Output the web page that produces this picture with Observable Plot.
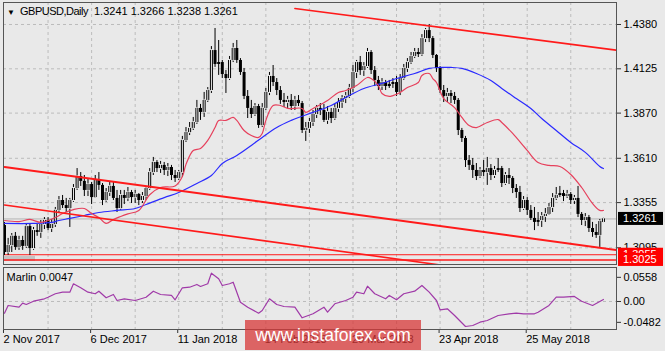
<!DOCTYPE html>
<html><head><meta charset="utf-8">
<script src="https://cdn.jsdelivr.net/npm/d3@7"></script>
<script src="https://cdn.jsdelivr.net/npm/@observablehq/plot@0.6"></script>
<style>
html,body{margin:0;padding:0;background:#e9e9e9;}
#chart{position:relative;width:665px;height:351px;overflow:hidden;background:#e9e9e9;font-family:"Liberation Sans",Arial,sans-serif;}
#chart svg{position:absolute;left:0;overflow:visible;}
.t{position:absolute;top:5px;font-size:11px;line-height:13px;color:#000;white-space:pre;}
.scroll{position:absolute;left:3px;top:256px;width:32px;height:5px;background:#c4c4c4;}
.wm{position:absolute;left:245px;top:320px;width:176px;height:30px;background:rgba(215,55,55,0.75);color:#fff;font-size:17.5px;line-height:30px;text-align:center;}
</style></head><body>
<div id="chart"><div class="scroll"></div></div>
<script>
// ---- data ----
const symbol = "GBPUSD,Daily";
const open = [
1.3223,1.3068,1.3108,1.3161,1.3097,1.3137,1.3103,1.3217,1.3091,1.3194,
1.3183,1.3229,1.3252,1.3206,1.3229,1.3310,1.3367,1.3338,1.3321,1.3367,
1.3436,1.3505,1.3477,1.3425,1.3459,1.3384,1.3482,1.3454,1.3367,1.3413,
1.3448,1.3379,1.3321,1.3396,1.3379,1.3413,1.3384,1.3402,1.3367,1.3390,
1.3436,1.3528,1.3586,1.3551,1.3569,1.3540,1.3557,1.3511,1.3494,1.3528,
1.3712,1.3758,1.3782,1.3816,1.3897,1.3874,1.3943,1.4000,1.4230,1.4150,
1.4161,1.4092,1.4069,1.4173,1.4242,1.4173,1.4104,1.3966,1.3897,1.3862,
1.3908,1.3799,1.3897,1.3989,1.4081,1.4046,1.4000,1.3943,1.3931,1.3943,
1.3908,1.3943,1.3925,1.3770,1.3782,1.3816,1.3862,1.3897,1.3885,1.3828,
1.3874,1.3839,1.3897,1.3931,1.3954,1.3966,1.4012,1.4104,1.4161,1.4115,
1.4138,1.4219,1.4115,1.4058,1.4023,1.4046,1.4023,1.4035,1.4046,1.3989,
1.4069,1.4127,1.4161,1.4196,1.4219,1.4207,1.4299,1.4345,1.4299,1.4202,
1.4127,1.4000,1.3966,1.3983,1.3966,1.3943,1.3770,1.3724,1.3597,1.3569,
1.3540,1.3505,1.3540,1.3528,1.3551,1.3511,1.3540,1.3551,1.3465,1.3511,
1.3494,1.3436,1.3413,1.3321,1.3367,1.3310,1.3264,1.3241,1.3252,1.3275,
1.3287,1.3327,1.3379,1.3396,1.3407,1.3390,1.3402,1.3367,1.3379,1.3287,
1.3252,1.3269,1.3206,1.3183,1.3166,1.3241];
const high = [
1.3241,1.3149,1.3177,1.3183,1.3161,1.3161,1.3229,1.3229,1.3212,1.3229,
1.3252,1.3269,1.3269,1.3258,1.3327,1.3390,1.3396,1.3379,1.3379,1.3459,
1.3551,1.3528,1.3511,1.3488,1.3471,1.3511,1.3528,1.3465,1.3436,1.3471,
1.3471,1.3425,1.3425,1.3425,1.3442,1.3425,1.3425,1.3407,1.3413,1.3448,
1.3551,1.3615,1.3597,1.3592,1.3586,1.3580,1.3569,1.3540,1.3540,1.3736,
1.3787,1.3816,1.3845,1.3943,1.3920,1.3989,1.4017,1.4253,1.4357,1.4288,
1.4173,1.4115,1.4196,1.4271,1.4288,1.4184,1.4127,1.4000,1.3943,1.3925,
1.3920,1.3925,1.4012,1.4104,1.4144,1.4069,1.4023,1.3983,1.3966,1.3977,
1.3966,1.3971,1.3937,1.3816,1.3839,1.3885,1.3914,1.3925,1.3920,1.3908,
1.3897,1.3920,1.3954,1.3971,1.3989,1.4035,1.4144,1.4173,1.4196,1.4161,
1.4242,1.4230,1.4138,1.4081,1.4069,1.4058,1.4058,1.4069,1.4081,1.4092,
1.4150,1.4184,1.4219,1.4242,1.4242,1.4322,1.4357,1.4380,1.4311,1.4207,
1.4138,1.4029,1.4012,1.4000,1.3989,1.3954,1.3782,1.3736,1.3626,1.3609,
1.3580,1.3557,1.3597,1.3615,1.3574,1.3563,1.3609,1.3563,1.3528,1.3551,
1.3505,1.3459,1.3448,1.3390,1.3384,1.3338,1.3327,1.3298,1.3298,1.3321,
1.3350,1.3407,1.3442,1.3448,1.3425,1.3425,1.3413,1.3396,1.3448,1.3298,
1.3292,1.3281,1.3241,1.3229,1.3258,1.3266];
const low = [
1.3051,1.3051,1.3068,1.3080,1.3080,1.3080,1.3091,1.3051,1.3080,1.3161,
1.3149,1.3200,1.3194,1.3183,1.3212,1.3298,1.3321,1.3298,1.3212,1.3356,
1.3425,1.3448,1.3390,1.3390,1.3344,1.3379,1.3425,1.3338,1.3356,1.3390,
1.3367,1.3298,1.3310,1.3344,1.3361,1.3350,1.3350,1.3338,1.3350,1.3367,
1.3425,1.3511,1.3528,1.3523,1.3511,1.3505,1.3482,1.3471,1.3482,1.3500,
1.3701,1.3741,1.3770,1.3805,1.3828,1.3845,1.3931,1.3983,1.4133,1.4087,
1.4069,1.3983,1.4058,1.4161,1.4156,1.4087,1.3948,1.3839,1.3839,1.3851,
1.3782,1.3787,1.3885,1.3971,1.4023,1.3971,1.3920,1.3902,1.3897,1.3885,
1.3885,1.3908,1.3753,1.3707,1.3753,1.3793,1.3839,1.3856,1.3816,1.3805,
1.3810,1.3828,1.3874,1.3897,1.3925,1.3954,1.3989,1.4069,1.4087,1.4081,
1.4127,1.4092,1.4023,1.4000,1.4000,1.4000,1.4012,1.4012,1.3966,1.3971,
1.4058,1.4104,1.4150,1.4184,1.4190,1.4196,1.4276,1.4276,1.4184,1.4104,
1.3983,1.3931,1.3931,1.3925,1.3920,1.3741,1.3701,1.3557,1.3540,1.3494,
1.3482,1.3494,1.3505,1.3454,1.3482,1.3494,1.3528,1.3442,1.3454,1.3459,
1.3407,1.3379,1.3298,1.3310,1.3281,1.3252,1.3194,1.3217,1.3212,1.3241,
1.3281,1.3298,1.3367,1.3384,1.3361,1.3379,1.3344,1.3344,1.3269,1.3223,
1.3217,1.3183,1.3155,1.3149,1.3097,1.3238];
const close = [
1.3068,1.3108,1.3161,1.3097,1.3137,1.3103,1.3217,1.3091,1.3194,1.3183,
1.3229,1.3252,1.3206,1.3229,1.3310,1.3367,1.3338,1.3321,1.3367,1.3436,
1.3505,1.3477,1.3425,1.3459,1.3384,1.3482,1.3454,1.3367,1.3413,1.3448,
1.3379,1.3321,1.3396,1.3379,1.3413,1.3384,1.3402,1.3367,1.3390,1.3436,
1.3528,1.3586,1.3551,1.3569,1.3540,1.3557,1.3511,1.3494,1.3528,1.3712,
1.3758,1.3782,1.3816,1.3897,1.3874,1.3943,1.4000,1.4230,1.4150,1.4161,
1.4092,1.4069,1.4173,1.4242,1.4173,1.4104,1.3966,1.3897,1.3862,1.3908,
1.3799,1.3897,1.3989,1.4081,1.4046,1.4000,1.3943,1.3931,1.3943,1.3908,
1.3943,1.3925,1.3770,1.3782,1.3816,1.3862,1.3897,1.3885,1.3828,1.3874,
1.3839,1.3897,1.3931,1.3954,1.3966,1.4012,1.4104,1.4161,1.4115,1.4138,
1.4219,1.4115,1.4058,1.4023,1.4046,1.4023,1.4035,1.4046,1.3989,1.4069,
1.4127,1.4161,1.4196,1.4219,1.4207,1.4299,1.4345,1.4299,1.4202,1.4127,
1.4000,1.3966,1.3983,1.3966,1.3943,1.3770,1.3724,1.3597,1.3569,1.3540,
1.3505,1.3540,1.3528,1.3551,1.3511,1.3540,1.3551,1.3465,1.3511,1.3494,
1.3436,1.3413,1.3321,1.3367,1.3310,1.3264,1.3241,1.3252,1.3275,1.3287,
1.3327,1.3379,1.3396,1.3407,1.3390,1.3402,1.3367,1.3379,1.3287,1.3252,
1.3269,1.3206,1.3183,1.3166,1.3246,1.3261];

// red moving average (bar index, value)
const maFastBars = [0,4,7,10,14,16,19,22,24,26,28,30,32,34,37,40,43,47,49,50,52,54,56,58,59,61,63,64,66,68,70,71,72,74,76,78,82,83,85,89,92,94,97,100,101,103,104,106,107,109,111,114,115,117,118,119,121,124,126,128,130,133,136,137,140,144,147,150,153,156,159,162,164,165];
const maFastVals = [1.3252,1.3246,1.3258,1.3241,1.3269,1.3292,1.3315,1.3321,1.3292,1.3269,
1.3235,1.3258,1.3275,1.3290,1.3310,1.3400,1.3442,1.3450,1.3505,1.3575,
1.3655,1.3667,1.3713,1.3787,1.3828,1.3828,1.3845,1.3828,1.3770,1.3741,
1.3730,1.3753,1.3828,1.3914,1.3914,1.3897,1.3897,1.3874,1.3897,1.3943,
1.3989,1.4000,1.4029,1.4075,1.4069,1.4029,1.3983,1.3966,1.3971,1.3989,
1.4017,1.4046,1.4087,1.4098,1.4069,1.4046,1.3954,1.3902,1.3845,1.3799,
1.3787,1.3816,1.3833,1.3816,1.3753,1.3655,1.3586,1.3569,1.3563,1.3517,
1.3442,1.3350,1.3310,1.3310];
// blue moving average
const maSlowBars = [0,8,13,15,18,22,26,31,36,39,44,48,53,57,60,64,68,71,75,79,81,85,90,94,99,104,108,113,117,120,123,126,130,134,137,141,145,148,152,156,160,164,165];
const maSlowVals = [1.3235,1.3235,1.3241,1.3252,1.3264,1.3281,1.3298,1.3310,1.3321,1.3344,
1.3384,1.3413,1.3465,1.3511,1.3580,1.3626,1.3684,1.3730,1.3787,1.3828,
1.3845,1.3874,1.3914,1.3960,1.4012,1.4041,1.4069,1.4098,1.4127,1.4133,
1.4133,1.4127,1.4098,1.4058,1.4012,1.3954,1.3897,1.3839,1.3770,1.3701,
1.3644,1.3563,1.3551];
// Marlin oscillator
const oscName = "Marlin";
const oscBars = [0,1,4,5,6,8,11,12,14,16,18,19,21,23,25,26,28,30,31,33,36,39,41,43,46,47,49,51,53,54,56,57,59,60,62,63,65,67,70,71,73,75,77,80,82,85,88,89,91,94,96,97,99,100,102,105,106,108,110,113,115,117,119,120,122,124,127,129,131,133,136,139,141,143,146,147,150,152,154,157,159,162,165];
const oscVals = [-0.0270,-0.0092,-0.0132,-0.0039,-0.0069,0.0007,0.0062,0.0099,0.0178,0.0215,
0.0215,0.0409,0.0316,0.0215,0.0178,0.0238,0.0085,0.0162,0.0023,0.0062,
0.0023,0.0099,0.0238,0.0162,0.0139,0.0039,0.0316,0.0330,0.0393,0.0347,
0.0409,0.0654,0.0524,0.0370,0.0409,0.0446,-0.0016,-0.0132,-0.0270,-0.0208,
0.0062,-0.0069,-0.0116,-0.0132,-0.0377,-0.0284,-0.0132,-0.0247,-0.0053,0.0023,
0.0099,0.0215,0.0178,0.0353,0.0178,0.0062,0.0139,0.0039,0.0178,0.0238,
0.0370,0.0215,0.0023,-0.0192,-0.0169,-0.0323,-0.0578,-0.0554,-0.0478,-0.0439,
-0.0323,-0.0284,-0.0270,-0.0284,-0.0284,-0.0247,-0.0092,0.0099,0.0099,0.0116,
0.0007,-0.0092,0.0047];
// drawn trend lines: anchor bars and prices
const upperLineBars = [80, 175], upperLinePrices = [1.4472, 1.4215];
const midLineBars = [0, 175], midLinePrices = [1.3560, 1.3064];
const lowLineBars = [0, 175], lowLinePrices = [1.3341, 1.2838];
const levelPrices = [1.3055, 1.3025];
// axes
const priceTicks = [1.4380, 1.4125, 1.3870, 1.3610, 1.3355, 1.3095];
const oscTicks = [0.0558, 0, -0.0482];
const oscTickLabels = ["0.0558", "0.00", "-0.0482"];
const dateLabels = ["2 Nov 2017","6 Dec 2017","11 Jan 2018","14 Feb 2018","20 Mar 2018","23 Apr 2018","25 May 2018"];
const dateLabelBars = [0,24,48,72,96,120,144];
const gridBars = [12,24,36,48,60,72,84,96,108,120,132,144,156];

// ---- build ----
const bars = close.map((c, i) => ({i, o: open[i], h: high[i], l: low[i], c}));
const upBars = bars.filter(d => d.c >= d.o);
const maFast = maFastBars.map((i, k) => ({i, v: maFastVals[k]}));
const maSlow = maSlowBars.map((i, k) => ({i, v: maSlowVals[k]}));
const osc = oscBars.map((i, k) => ({i, v: oscVals[k]}));
const mkLine = (b, p) => b.map((i, k) => ({i, v: p[k]}));
const last = bars[bars.length - 1];
const xDomain = [-0.275, 168.6];
const font = "'Liberation Sans', Arial, sans-serif";
const gridStyle = {stroke: "#bcbcbc", strokeOpacity: 1, strokeDasharray: "3,3"};

const boxes = [last.c, ...levelPrices];
const priceBoxes = (index, scales, values, dims) => {
  const g = d3.create("svg:g").attr("font-family", font).attr("font-size", 11).attr("text-anchor", "start");
  const x0 = dims.width - dims.marginRight + 2;
  boxes.forEach((p, k) => {
    const y = scales.y(p);
    g.append("rect").attr("x", x0).attr("y", y - 6.5).attr("width", 45).attr("height", 13)
      .attr("fill", k === 0 ? "#000" : "#ff0000");
    g.append("text").attr("x", x0 + 5).attr("y", y).attr("dy", "0.36em").attr("text-anchor", "start")
      .attr("fill", "#fff").text(p.toFixed(4));
  });
  return g.node();
};

const main = Plot.plot({
  width: 665, height: 265,
  marginLeft: 3, marginRight: 49, marginTop: 2, marginBottom: 1,
  x: {domain: xDomain, axis: null},
  y: {domain: [1.29988, 1.45066], axis: null},
  style: {background: "transparent", fontFamily: font, fontSize: "11px", color: "#000", overflow: "visible"},
  marks: [
    Plot.gridX(gridBars, gridStyle),
    Plot.gridY(priceTicks, gridStyle),
    Plot.ruleY([last.c], {stroke: "#b4b4b4"}),
    Plot.ruleY(levelPrices, {stroke: "#ff1a1a", strokeWidth: (d, k) => k === 0 ? 1 : 2, strokeOpacity: (d, k) => k === 0 ? 1 : 0.75}),
    Plot.ruleX(bars, {x: "i", y1: "l", y2: "h", stroke: "#000", strokeWidth: 1}),
    Plot.ruleX(bars, {x: "i", y1: "o", y2: "c", stroke: "#000", strokeWidth: 3}),
    Plot.ruleX(upBars.filter(d => d.c - d.o > 0.0012), {x: "i", y1: "o", y2: "c", stroke: "#f2f2f2", strokeWidth: 1, insetTop: 1, insetBottom: 1}),
    Plot.line(maSlow, {x: "i", y: "v", stroke: "#2a2aff", strokeWidth: 1.2, curve: "catmull-rom"}),
    Plot.line(maFast, {x: "i", y: "v", stroke: "#e6405c", strokeWidth: 1.2, curve: "catmull-rom"}),
    Plot.line(mkLine(upperLineBars, upperLinePrices), {x: "i", y: "v", stroke: "#ff1a1a", strokeWidth: 1.6, clip: true}),
    Plot.line(mkLine(midLineBars, midLinePrices), {x: "i", y: "v", stroke: "#ff1a1a", strokeWidth: 2, clip: true}),
    Plot.line(mkLine(lowLineBars, lowLinePrices), {x: "i", y: "v", stroke: "#ff1a1a", strokeWidth: 1.6, clip: true}),
    Plot.axisY(priceTicks, {anchor: "right", tickFormat: d => d.toFixed(4), tickSize: 4, tickPadding: 3, stroke: "#333", label: null}),
    priceBoxes,
    Plot.frame({stroke: "#555"})
  ]
});
main.style.top = "0px";

const sub = Plot.plot({
  width: 665, height: 85,
  marginLeft: 3, marginRight: 49, marginTop: 1, marginBottom: 22,
  x: {domain: xDomain, axis: null},
  y: {domain: [-0.0647, 0.0785], axis: null},
  style: {background: "transparent", fontFamily: font, fontSize: "11px", color: "#000", overflow: "visible"},
  marks: [
    Plot.gridX(gridBars, gridStyle),
    Plot.ruleY([0], gridStyle),
    Plot.line(osc, {x: "i", y: "v", stroke: "#a03aa8", strokeWidth: 1.2}),
    Plot.axisY(oscTicks, {anchor: "right", tickFormat: d => oscTickLabels[oscTicks.indexOf(d)], tickSize: 4, tickPadding: 3, stroke: "#333", label: null}),
    Plot.axisX(dateLabelBars, {anchor: "bottom", tickFormat: d => dateLabels[dateLabelBars.indexOf(d)], tickSize: 4, tickPadding: 2, textAnchor: "start", dx: -1, stroke: "#333", label: null}),
    Plot.text([`${oscName} ${osc[osc.length - 1].v.toFixed(4)}`], {frameAnchor: "top-left", dx: 3, dy: 6, lineAnchor: "top", textAnchor: "start"}),
    Plot.frame({stroke: "#555"})
  ]
});
sub.style.top = "266px";

const chart = document.getElementById("chart");
chart.appendChild(main);
chart.appendChild(sub);

const tri = document.createElement("div");
tri.className = "t"; tri.style.left = "7px"; tri.style.fontSize = "8px"; tri.style.top = "6px";
tri.textContent = "\u25BC";
const nm = document.createElement("div");
nm.className = "t"; nm.style.left = "20px"; nm.style.letterSpacing = "-0.5px";
nm.textContent = symbol;
const vals = document.createElement("div");
vals.className = "t"; vals.style.left = "94px";
vals.textContent = [last.o, last.h, last.l, last.c].map(v => v.toFixed(4)).join(" ");
const wm = document.createElement("div");
wm.className = "wm"; wm.textContent = "www.instaforex.com";
chart.append(tri, nm, vals, wm);
</script>
</body></html>
